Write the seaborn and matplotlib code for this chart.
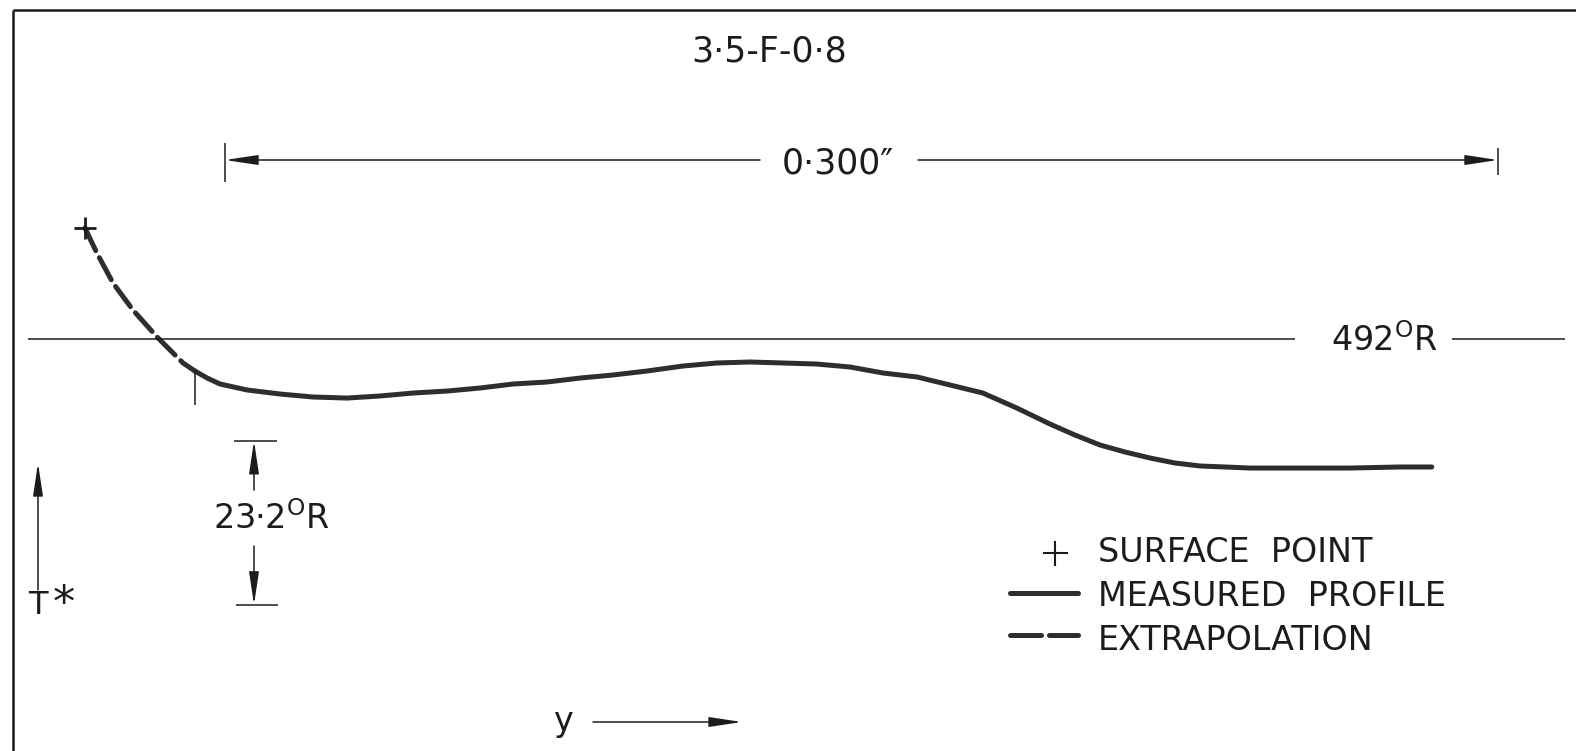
import matplotlib
matplotlib.use("Agg")
import numpy as np
import pandas as pd
import seaborn as sns
import matplotlib.pyplot as plt

# ---------------- data (y in inches from the surface, T* in deg R) ----------------
surface_y = [0.0]
surface_T = [507.70]

extrap_y = [0.0000, 0.0028, 0.0066, 0.0113, 0.0170, 0.0231, 0.0259]
extrap_T = [507.70, 504.16, 499.92, 496.10, 492.28, 488.61, 487.47]

meas_y = [0.0259, 0.0288, 0.0318, 0.0382, 0.0460, 0.0537, 0.0617, 0.0695, 0.0773,
          0.0853, 0.0931, 0.1009, 0.1089, 0.1167, 0.1244, 0.1324, 0.1409, 0.1489,
          0.1567, 0.1645, 0.1725, 0.1803, 0.1881, 0.1961, 0.2039, 0.2116, 0.2196,
          0.2274, 0.2333, 0.2392, 0.2451, 0.2510, 0.2569, 0.2628, 0.2687, 0.2745,
          0.2863, 0.2981, 0.3099, 0.3174]
meas_T = [487.47, 486.48, 485.64, 484.79, 484.22, 483.80, 483.65, 483.94, 484.36,
          484.64, 485.07, 485.64, 485.92, 486.48, 486.91, 487.47, 488.18, 488.61,
          488.75, 488.61, 488.46, 488.04, 487.19, 486.63, 485.49, 484.36, 482.24,
          479.98, 478.42, 477.01, 476.02, 475.17, 474.46, 474.04, 473.90, 473.75,
          473.75, 473.75, 473.90, 473.90]

T_ref = 492.0          # 492 deg R reference line
dim_length = 0.300     # inches
dim_start = 0.0330
dT_span = 23.2         # deg R
dT_top = 477.6

title = "3·5-F-0·8"
legend_labels = ["SURFACE  POINT", "MEASURED  PROFILE", "EXTRAPOLATION"]

# ---------------- figure ----------------
sns.set_theme(style="white")
plt.rcParams["font.family"] = ["DejaVu Sans"]
plt.rcParams["mathtext.fontset"] = "dejavusans"

W, H = 1576, 751
fig = plt.figure(figsize=(W / 100, H / 100), dpi=100)
fig.patch.set_facecolor("white")

ax = fig.add_axes([0, 0, 1, 1])
X0, X1 = -0.02003, 0.35138
Y0, Y1 = 433.73, 539.95
ax.set_xlim(X0, X1)
ax.set_ylim(Y0, Y1)
ax.axis("off")

def px2x(px):
    return X0 + px / W * (X1 - X0)

def py2T(py):
    return Y1 - py / H * (Y1 - Y0)

ov = fig.add_axes([0, 0, 1, 1], facecolor="none")
ov.set_xlim(0, W)
ov.set_ylim(H, 0)
ov.axis("off")

ink = "#1c1c1c"
curve_col = "#2e2e2e"
LW = 3.6
dash = (0, (5, 1.6))

# measured profile
sns.lineplot(x=meas_y, y=meas_T, ax=ax, sort=False, estimator=None,
             color=curve_col, lw=LW, solid_capstyle="round", solid_joinstyle="round")
# extrapolation
sns.lineplot(x=extrap_y, y=extrap_T, ax=ax, sort=False, estimator=None,
             color=curve_col, lw=LW, linestyle=dash, dash_capstyle="round",
             dash_joinstyle="round")
# surface point
ax.plot(surface_y, surface_T, marker="+", ms=16, mew=2.0, color=ink, ls="none")

# tick at start of measured profile
ax.vlines(meas_y[0], py2T(405), meas_T[0], color=ink, lw=1.1)

# 492 R reference line
ax.hlines(T_ref, px2x(28), px2x(1295), color=ink, lw=1.1)
ax.hlines(T_ref, px2x(1452), px2x(1565), color=ink, lw=1.1)
ov.text(1384, 341, r"492$^{\mathrm{O}}$R", fontsize=24, ha="center", va="center", color=ink)

arrow_kw = dict(arrowstyle="-|>,head_length=2.0,head_width=0.3", lw=1.1, color=ink,
                mutation_scale=10, shrinkA=0, shrinkB=0)

# 0.300" dimension
Tdim = py2T(160)
ax.annotate("", xy=(dim_start, Tdim), xytext=(px2x(760), Tdim), arrowprops=arrow_kw)
ax.annotate("", xy=(dim_start + dim_length, Tdim), xytext=(px2x(918), Tdim), arrowprops=arrow_kw)
ax.vlines(dim_start, py2T(182), py2T(143), color=ink, lw=1.1)
ax.vlines(dim_start + dim_length, py2T(175), py2T(148), color=ink, lw=1.1)
ov.text(838, 163, "0·300″", fontsize=25, ha="center", va="center", color=ink)

# 23.2 R dimension
xd = px2x(254)
ax.hlines(dT_top, px2x(234), px2x(277), color=ink, lw=1.1)
ax.hlines(dT_top - dT_span, px2x(236), px2x(278), color=ink, lw=1.1)
ax.annotate("", xy=(xd, dT_top), xytext=(xd, py2T(490)), arrowprops=arrow_kw)
ax.annotate("", xy=(xd, dT_top - dT_span), xytext=(xd, py2T(546)), arrowprops=arrow_kw)
ov.text(271, 519, r"23·2$^{\mathrm{O}}$R", fontsize=24, ha="center", va="center", color=ink)

# title
ov.text(769, 52, title, fontsize=25, ha="center", va="center", color=ink)

# T* axis arrow
ov.annotate("", xy=(38, 463), xytext=(38, 590), arrowprops=arrow_kw)
ov.text(38, 605, "T", fontsize=23, ha="center", va="center", color=ink)
ov.text(64, 604, "*", fontsize=32, ha="center", va="center", color=ink)

# y axis arrow
ov.text(563, 722, "y", fontsize=24, ha="center", va="center", color=ink)
ov.annotate("", xy=(742, 722), xytext=(593, 722), arrowprops=arrow_kw)

# frame (left and top)
ov.plot([13, 13], [10, H], color=ink, lw=1.8, solid_capstyle="butt")
ov.plot([13, W], [10, 10], color=ink, lw=1.8, solid_capstyle="butt")

# legend
ov.plot([1055], [553], marker="+", ms=18, mew=1.5, color=ink, ls="none")
ov.plot([1010, 1078], [593, 593], color=curve_col, lw=LW, solid_capstyle="round")
ov.plot([1010, 1078], [635, 635], color=curve_col, lw=LW, linestyle=(0, (6.2, 1.6)),
        dash_capstyle="round")
for lab, yy in zip(legend_labels, [552, 596, 640]):
    ov.text(1098, yy, lab, fontsize=24, ha="left", va="center", color=ink)

fig.savefig("out.png", dpi=100, facecolor="white")
